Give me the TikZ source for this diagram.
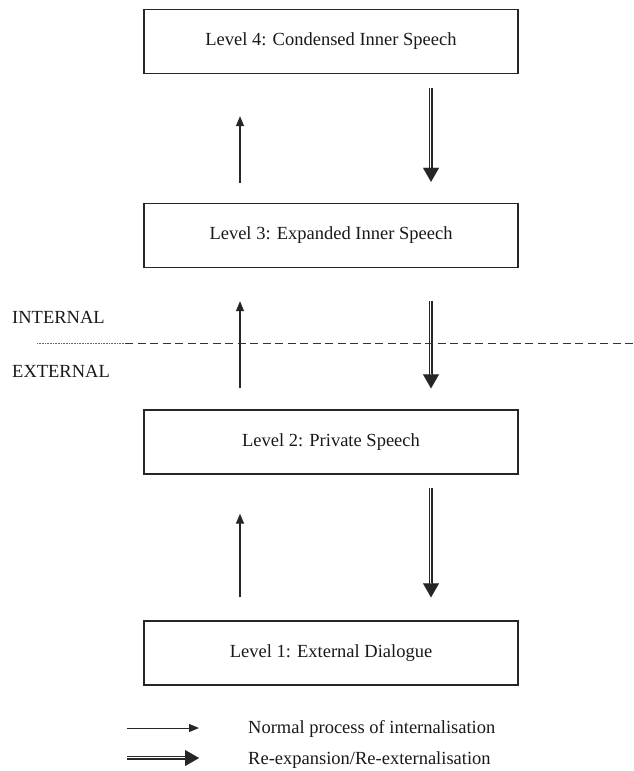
\documentclass[tikz,border=0pt]{standalone}
\usepackage{fontspec}
\setmainfont{Liberation Serif}
\usetikzlibrary{arrows.meta}
\begin{document}
\begin{tikzpicture}[x=1pt,y=-1pt,
  every node/.style={font=\fontsize{18.5}{22}\selectfont, text=black!90},
  levelbox/.style={draw=black!85, line width=1.3pt, minimum width=374pt, minimum height=64pt, inner sep=0pt},
  upar/.style={draw=black!85, line width=1.2pt, -{Triangle[length=10pt,width=8pt]}},
  dblv/.style={draw=none,
    postaction={draw=black!85, line width=0.8pt, shorten >=8pt, transform canvas={xshift=1.2pt}},
    postaction={draw=black!85, line width=0.8pt, shorten >=8pt, transform canvas={xshift=-1.2pt}},
    postaction={draw=black!85, line width=0.05pt, -{Triangle[length=14pt,width=16pt]}}},
  dblh/.style={draw=none,
    postaction={draw=black!85, line width=0.8pt, shorten >=8pt, transform canvas={yshift=1.2pt}},
    postaction={draw=black!85, line width=0.8pt, shorten >=8pt, transform canvas={yshift=-1.2pt}},
    postaction={draw=black!85, line width=0.05pt, -{Triangle[length=14pt,width=16pt]}}},
  lbl/.style={anchor=base west, inner sep=0pt}
]
\useasboundingbox (0,0) rectangle (633,771);
% boxes
\node[levelbox] (b4) at (331,41.5) {Level 4: Condensed Inner Speech};
\node[levelbox] (b3) at (331,235.5) {Level 3: Expanded Inner Speech};
\node[levelbox] (b2) at (331,442) {Level 2: Private Speech};
\node[levelbox] (b1) at (331,653) {Level 1: External Dialogue};
% x positions of arrows
\coordinate (ux) at (240,0);
\coordinate (dx) at (431,0);
% arrow end points (relative to the boxes)
\coordinate (u43s) at ([yshift=20pt]b3.north -| ux);
\coordinate (u43e) at ([yshift=-42pt]b4.south -| ux);
\coordinate (d43s) at ([yshift=-14pt]b4.south -| dx);
\coordinate (d43e) at ([yshift=21pt]b3.north -| dx);
\coordinate (u32s) at ([yshift=21pt]b2.north -| ux);
\coordinate (u32e) at ([yshift=-33pt]b3.south -| ux);
\coordinate (d32s) at ([yshift=-33pt]b3.south -| dx);
\coordinate (d32e) at ([yshift=21pt]b2.north -| dx);
\coordinate (u21s) at ([yshift=23pt]b1.north -| ux);
\coordinate (u21e) at ([yshift=-39pt]b2.south -| ux);
\coordinate (d21s) at ([yshift=-13pt]b2.south -| dx);
\coordinate (d21e) at ([yshift=23pt]b1.north -| dx);
\draw[upar] (u43s) -- (u43e);
\draw[dblv] (d43s) -- (d43e);
\draw[upar] (u32s) -- (u32e);
\draw[dblv] (d32s) -- (d32e);
\draw[upar] (u21s) -- (u21e);
\draw[dblv] (d21s) -- (d21e);
% internal / external divider
\node[lbl] (int) at (12,323) {INTERNAL};
\node[lbl] (ext) at (12,377) {EXTERNAL};
\coordinate (dl0) at (37,343);
\coordinate (dl1) at (125,343);
\coordinate (dl2) at (633,343);
\draw[black!60, line width=0.5pt, dash pattern=on 0.8pt off 0.8pt] (dl0) -- (dl1);
\draw[black!80, line width=0.8pt, dash pattern=on 8pt off 4.5pt] (dl1) -- (dl2);
% legend
\coordinate (l1a) at (127,728);
\coordinate (l1b) at (199,728);
\coordinate (l2a) at (127,758);
\coordinate (l2b) at (199,758);
\draw[upar, line width=1pt] (l1a) -- (l1b);
\draw[dblh] (l2a) -- (l2b);
\node[lbl] (t1) at (248,733) {Normal process of internalisation};
\node[lbl] (t2) at (248,764) {Re-expansion/Re-externalisation};
\end{tikzpicture}
\end{document}
